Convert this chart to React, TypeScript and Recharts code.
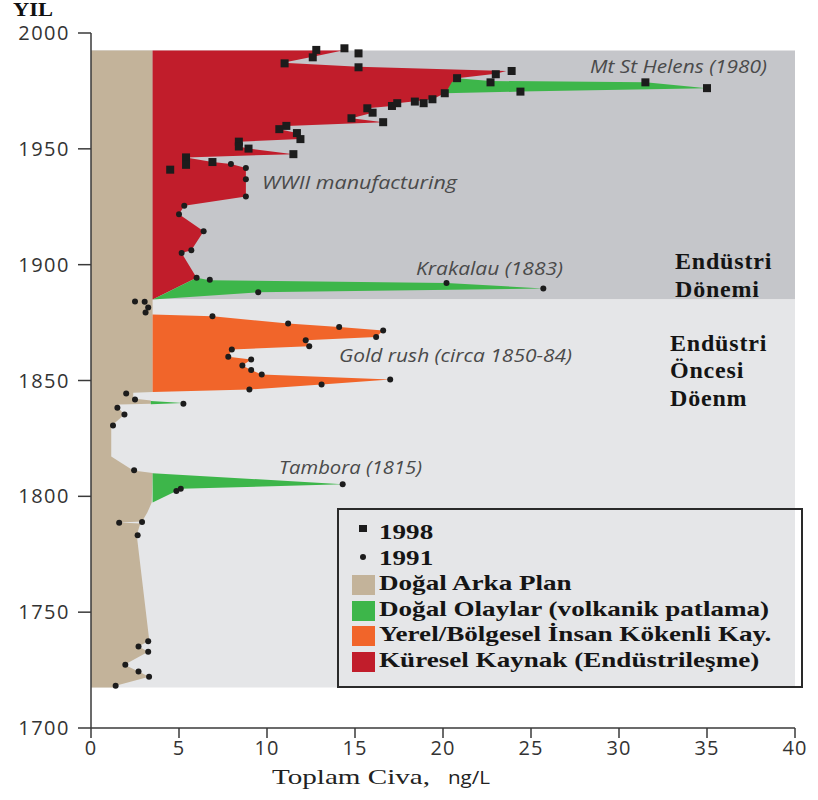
import React from "react";
import {
  ComposedChart,
  Area,
  Scatter,
  XAxis,
  YAxis,
  ReferenceArea,
  Legend,
} from "recharts";

const X_TICKS = [0, 5, 10, 15, 20, 25, 30, 35, 40];
const Y_TICKS = [1700, 1750, 1800, 1850, 1900, 1950, 2000];

// period boxes, in years
const INDUSTRIAL_PERIOD = [1885, 1992.5];
const PRE_INDUSTRIAL_PERIOD = [1717.5, 1885];
// human / volcanic layers sit on top of this background level (ng/L)
const HUMAN_BASE = 3.5;

// [year, upper edge of the natural background]
const BACKGROUND_EDGE: [number, number][] = [
  [1992.5, 3.5], [1845.0, 3.5], [1844.7, 2.4], [1842.2, 2.4], [1841.4, 3.4],
  [1840.0, 3.4], [1839.6, 1.6], [1838.1, 1.55], [1835.3, 1.9], [1831.0, 1.25],
  [1829.5, 1.15], [1817.2, 1.15], [1811.2, 2.4], [1810.1, 3.5], [1797.3, 3.45],
  [1793.0, 3.2], [1789.1, 2.9], [1788.7, 1.6], [1788.3, 2.8], [1783.2, 2.6],
  [1738.5, 3.3], [1737.5, 3.25], [1735.2, 2.7], [1732.9, 3.25], [1727.3, 1.9],
  [1724.4, 2.7], [1722.1, 3.3], [1718.2, 1.4], [1717.5, 1.3],
];

// [year, edge] global industrial source
const GLOBAL_EDGE: [number, number][] = [
  [1992.5, 14.3], [1989.8, 12.6], [1987.2, 10.9], [1985.4, 15.2], [1983.6, 23.6],
  [1982.4, 23.0], [1980.5, 20.8], [1974.0, 20.1], [1971.4, 19.4], [1970.5, 18.4],
  [1969.7, 17.4], [1968.5, 17.1], [1967.5, 15.7], [1965.6, 16.0], [1963.2, 14.8],
  [1961.5, 16.6], [1959.9, 11.1], [1958.5, 10.7], [1956.8, 11.7], [1954.2, 11.9],
  [1953.1, 8.4], [1951.0, 8.4], [1950.1, 8.95], [1947.7, 11.5], [1946.3, 5.4],
  [1944.3, 6.9], [1943.4, 7.95], [1941.7, 8.8], [1936.9, 8.8], [1929.4, 8.8],
  [1925.4, 5.3], [1921.8, 5.0], [1914.4, 6.4], [1906.2, 5.7], [1905.0, 5.15],
  [1894.3, 6.0], [1885.0, 3.5],
];

// [year, edge] gold rush (local / regional)
const LOCAL_EDGE: [number, number][] = [
  [1878.5, 3.5], [1877.7, 6.9], [1874.6, 11.2], [1873.1, 14.1], [1871.6, 16.6],
  [1868.8, 16.2], [1867.4, 12.2], [1864.8, 12.4], [1863.4, 8.0], [1860.2, 7.8],
  [1859.1, 9.1], [1856.5, 8.6], [1854.5, 9.1], [1852.6, 9.7], [1850.4, 17.0],
  [1848.3, 13.1], [1846.1, 9.0], [1845.0, 3.5],
];

// volcanic events: [year, low, high]
const ST_HELENS: [number, number, number][] = [
  [1980.5, 20.8, 20.8], [1979.3, 20.6, 22.7], [1978.7, 20.5, 31.5],
  [1976.2, 20.3, 35.0], [1974.7, 20.2, 24.4], [1974.0, 20.1, 20.1],
];
const KRAKATAU: [number, number, number][] = [
  [1894.3, 6.0, 6.0], [1893.3, 5.72, 6.75], [1892.1, 5.4, 20.2],
  [1889.7, 4.77, 25.7], [1888.1, 4.35, 9.5], [1885.0, 3.5, 3.5],
];
const SPIKE_1840: [number, number, number][] = [
  [1841.2, 3.4, 3.4], [1840.3, 3.4, 5.25], [1839.8, 3.4, 3.4],
];
const TAMBORA: [number, number, number][] = [
  [1810.0, 3.5, 3.5], [1805.2, 3.5, 14.3], [1803.3, 3.5, 5.1],
  [1802.3, 3.5, 4.85], [1797.3, 3.5, 3.5],
];

// ice core samples: [year, ng/L]
const SAMPLES_1998: [number, number][] = [
  [1993.4, 14.4], [1992.7, 12.8], [1991.2, 15.2], [1989.5, 12.6], [1986.9, 11.0],
  [1985.2, 15.2], [1983.6, 23.9], [1982.2, 23.0], [1980.5, 20.8], [1978.7, 22.7],
  [1978.7, 31.5], [1976.2, 35.0], [1974.7, 24.4], [1974.0, 20.1], [1971.4, 19.4],
  [1970.4, 18.4], [1969.7, 18.9], [1969.7, 17.4], [1968.5, 17.1], [1967.5, 15.7],
  [1965.6, 16.0], [1963.2, 14.8], [1961.5, 16.6], [1959.9, 11.1], [1958.5, 10.7],
  [1956.8, 11.7], [1954.2, 11.9], [1953.1, 8.4], [1951.0, 8.4], [1950.1, 8.95],
  [1947.7, 11.5], [1946.3, 5.4], [1944.3, 6.9], [1943.1, 5.4], [1941.0, 4.5],
];
const SAMPLES_1991: [number, number][] = [
  [1943.4, 7.95], [1941.7, 8.8], [1936.9, 8.8], [1929.4, 8.8], [1925.4, 5.3],
  [1921.8, 5.0], [1914.4, 6.4], [1906.2, 5.7], [1905.0, 5.15], [1894.3, 6.0],
  [1893.5, 6.75], [1892.1, 20.2], [1889.7, 25.7], [1888.1, 9.5], [1884.1, 2.5],
  [1884.0, 3.05], [1881.5, 3.25], [1879.3, 3.1], [1877.7, 6.9], [1874.6, 11.2],
  [1873.1, 14.1], [1871.6, 16.6], [1868.8, 16.2], [1867.4, 12.2], [1864.8, 12.4],
  [1863.4, 8.0], [1860.2, 7.8], [1859.1, 9.1], [1856.5, 8.6], [1854.5, 9.1],
  [1852.6, 9.7], [1850.4, 17.0], [1848.3, 13.1], [1846.1, 9.0], [1844.4, 2.0],
  [1841.8, 2.5], [1840.0, 5.25], [1838.2, 1.5], [1835.3, 1.9], [1830.6, 1.25],
  [1811.3, 2.45], [1805.2, 14.3], [1803.3, 5.1], [1802.3, 4.85], [1788.9, 2.9],
  [1788.6, 1.6], [1783.2, 2.65], [1737.5, 3.25], [1735.2, 2.7], [1732.9, 3.25],
  [1727.3, 1.95], [1724.4, 2.7], [1722.1, 3.3], [1718.2, 1.4],
];

const BROWN = "#c3b39a";
const GREEN = "#3db64a";
const ORANGE = "#f1652a";
const RED = "#c11d2b";
const DARK_BG = "#c5c6ca";
const LIGHT_BG = "#e5e6e8";
const DOT = "#1c1c1c";

const MARKER_LEGEND = [
  { label: "1998", shape: "square" },
  { label: "1991", shape: "circle" },
];
const AREA_LEGEND = [
  { label: "Doğal Arka Plan", color: BROWN },
  { label: "Doğal Olaylar (volkanik patlama)", color: GREEN },
  { label: "Yerel/Bölgesel İnsan Kökenli Kay.", color: ORANGE },
  { label: "Küresel Kaynak (Endüstrileşme)", color: RED },
];

const SERIF = '"Liberation Serif", "Times New Roman", serif';
const SANS = '"Open Sans", sans-serif';

const band = (rows: [number, number][], base: number) =>
  rows.map(([year, hi]) => ({ year, band: [base, hi] }));
const range = (rows: [number, number, number][]) =>
  rows.map(([year, lo, hi]) => ({ year, band: [lo, hi] }));
const points = (rows: [number, number][]) => rows.map(([year, v]) => ({ year, v }));

const SquareDot = (p: any) => (
  <rect x={p.cx - 4} y={p.cy - 4} width={8} height={8} fill={DOT} />
);
const RoundDot = (p: any) => <circle cx={p.cx} cy={p.cy} r={3} fill={DOT} />;

function LegendBox() {
  const rowStyle: React.CSSProperties = { position: "relative", height: 25.6 };
  const textStyle: React.CSSProperties = {
    position: "absolute",
    left: 29,
    top: 0,
    lineHeight: "25.6px",
    whiteSpace: "nowrap",
    display: "inline-block",
    transform: "scaleX(1.29)",
    transformOrigin: "left center",
  };
  return (
    <div
      style={{
        width: 466,
        height: 180,
        boxSizing: "border-box",
        border: "2px solid #2a2a2a",
        padding: "10px 0 0 11px",
        fontFamily: SERIF,
        fontWeight: "bold",
        fontSize: 21,
        color: "#151515",
      }}
    >
      {MARKER_LEGEND.map((m) => (
        <div key={m.label} style={rowStyle}>
          {m.shape === "square" ? (
            <div style={{ position: "absolute", left: 9, top: 5, width: 8, height: 7, background: DOT }} />
          ) : (
            <div style={{ position: "absolute", left: 10, top: 8, width: 6, height: 6, borderRadius: 3, background: DOT }} />
          )}
          <span style={textStyle}>{m.label}</span>
        </div>
      ))}
      {AREA_LEGEND.map((a) => (
        <div key={a.label} style={rowStyle}>
          <div style={{ position: "absolute", left: 2, top: 4, width: 23, height: 20, background: a.color }} />
          <span style={textStyle}>{a.label}</span>
        </div>
      ))}
    </div>
  );
}

export default function App() {
  return (
    <div style={{ position: "absolute", left: 0, top: 0, width: 818, height: 800, background: "#fff" }}>
      <ComposedChart
        width={818}
        height={800}
        layout="vertical"
        margin={{ top: 33, right: 23, bottom: 22, left: 31 }}
      >
        <XAxis
          type="number"
          domain={[0, 40]}
          ticks={X_TICKS}
          allowDataOverflow
          height={50}
          tickSize={10}
          tickMargin={3}
          stroke="#3a3a3a"
          strokeWidth={1.5}
          tick={{ fill: "#333", fontSize: 20, fontFamily: SANS, letterSpacing: 1 }}
        />
        <YAxis
          type="number"
          dataKey="year"
          domain={[1700, 2000]}
          ticks={Y_TICKS}
          reversed
          allowDataOverflow
          width={60}
          tickSize={13}
          tickMargin={8}
          stroke="#3a3a3a"
          strokeWidth={1.5}
          tick={{ fill: "#333", fontSize: 20, fontFamily: SANS, letterSpacing: 1.5 }}
        />
        <ReferenceArea
          x1={0}
          x2={40}
          y1={INDUSTRIAL_PERIOD[0]}
          y2={INDUSTRIAL_PERIOD[1]}
          fill={DARK_BG}
          fillOpacity={1}
          stroke="none"
          zIndex={-20}
        />
        <ReferenceArea
          x1={0}
          x2={40}
          y1={PRE_INDUSTRIAL_PERIOD[0]}
          y2={PRE_INDUSTRIAL_PERIOD[1]}
          fill={LIGHT_BG}
          fillOpacity={1}
          stroke="none"
          zIndex={-20}
        />
        <Area data={band(BACKGROUND_EDGE, 0)} dataKey="band" type="linear" fill={BROWN} fillOpacity={1} stroke="none" isAnimationActive={false} />
        <Area data={band(GLOBAL_EDGE, HUMAN_BASE)} dataKey="band" type="linear" fill={RED} fillOpacity={1} stroke="none" isAnimationActive={false} />
        <Area data={band(LOCAL_EDGE, HUMAN_BASE)} dataKey="band" type="linear" fill={ORANGE} fillOpacity={1} stroke="none" isAnimationActive={false} />
        <Area data={range(ST_HELENS)} dataKey="band" type="linear" fill={GREEN} fillOpacity={1} stroke="none" isAnimationActive={false} />
        <Area data={range(KRAKATAU)} dataKey="band" type="linear" fill={GREEN} fillOpacity={1} stroke="none" isAnimationActive={false} />
        <Area data={range(SPIKE_1840)} dataKey="band" type="linear" fill={GREEN} fillOpacity={1} stroke="none" isAnimationActive={false} />
        <Area data={range(TAMBORA)} dataKey="band" type="linear" fill={GREEN} fillOpacity={1} stroke="none" isAnimationActive={false} />
        <Scatter name="1998" data={points(SAMPLES_1998)} dataKey="v" shape={SquareDot} isAnimationActive={false} />
        <Scatter name="1991" data={points(SAMPLES_1991)} dataKey="v" shape={RoundDot} isAnimationActive={false} />
        <Legend
          content={LegendBox}
          layout="vertical"
          align="center"
          verticalAlign="middle"
          wrapperStyle={{ left: 337, top: 508, width: 466, height: 180 }}
        />
      </ComposedChart>
      <svg
        width={818}
        height={800}
        style={{ position: "absolute", left: 0, top: 0, pointerEvents: "none" }}
      >
        <text x={13} y={16} fontFamily={SERIF} fontWeight="bold" fontSize={19} fill="#111" textLength={40} lengthAdjust="spacingAndGlyphs">YIL</text>
        <g fontFamily={SANS} fontStyle="italic" fontSize={17.5} fill="#4a4a4a">
          <text x={590} y={73} textLength={177} lengthAdjust="spacingAndGlyphs">Mt St Helens (1980)</text>
          <text x={262} y={189} textLength={195} lengthAdjust="spacingAndGlyphs">WWII manufacturing</text>
          <text x={416} y={275} textLength={147} lengthAdjust="spacingAndGlyphs">Krakalau (1883)</text>
          <text x={339} y={362} textLength={233} lengthAdjust="spacingAndGlyphs">Gold rush (circa 1850-84)</text>
          <text x={279} y={474} textLength={143} lengthAdjust="spacingAndGlyphs">Tambora (1815)</text>
        </g>
        <g fontFamily={SERIF} fontWeight="bold" fontSize={24} fill="#141414" letterSpacing={0.8}>
          <text x={675} y={269}>Endüstri</text>
          <text x={675} y={297}>Dönemi</text>
          <text x={670} y={351}>Endüstri</text>
          <text x={670} y={378}>Öncesi</text>
          <text x={670} y={406}>Döenm</text>
        </g>
        <text x={272} y={784} fill="#222">
          <tspan fontFamily={SERIF} fontSize={21} textLength={158} lengthAdjust="spacingAndGlyphs">Toplam Civa,</tspan>
          <tspan x={448} fontFamily={SANS} fontSize={19} textLength={42} lengthAdjust="spacingAndGlyphs">ng/L</tspan>
        </text>
      </svg>
    </div>
  );
}
